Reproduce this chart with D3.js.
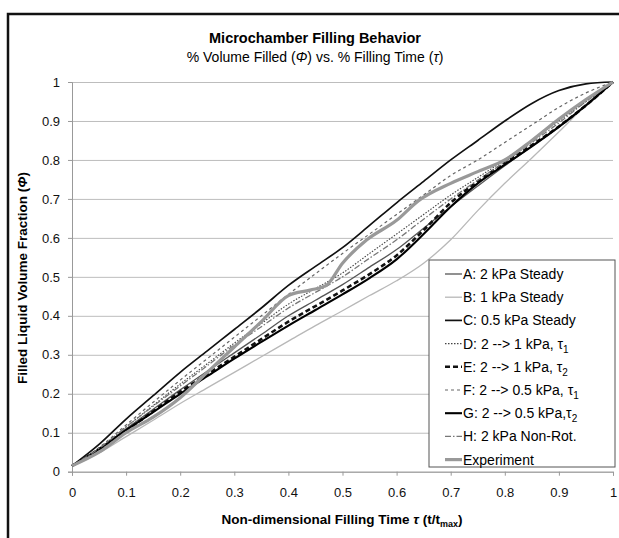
<!DOCTYPE html>
<html>
<head>
<meta charset="utf-8">
<script src="https://cdn.jsdelivr.net/npm/d3@7"></script>
<style>
  body { margin: 0; background: #fff; }
  text { font-family: "Liberation Sans", Arial, sans-serif; }
</style>
</head>
<body>
<div id="vis"></div>
<script>
// non-dimensional time grid shared by the simulated runs
const T = [0, 0.05, 0.1, 0.15, 0.2, 0.25, 0.3, 0.35, 0.4, 0.45, 0.5,
           0.55, 0.6, 0.65, 0.7, 0.75, 0.8, 0.85, 0.9, 0.95, 1];

const A_2KPA = [0.015, 0.058, 0.11, 0.16, 0.21, 0.258, 0.305, 0.352, 0.40, 0.44, 0.48,
                0.525, 0.57, 0.625, 0.68, 0.733, 0.785, 0.835, 0.885, 0.94, 1.0];
const B_1KPA = [0.015, 0.048, 0.09, 0.132, 0.175, 0.215, 0.255, 0.295, 0.335, 0.375, 0.413,
                0.452, 0.49, 0.535, 0.595, 0.67, 0.74, 0.805, 0.872, 0.94, 1.0];
const C_05KPA = [0.015, 0.07, 0.135, 0.195, 0.255, 0.31, 0.365, 0.42, 0.478, 0.527, 0.575,
                 0.632, 0.69, 0.745, 0.80, 0.85, 0.90, 0.945, 0.978, 0.995, 1.0];
const D_2TO1_T1 = [0.015, 0.06, 0.115, 0.17, 0.225, 0.277, 0.33, 0.38, 0.43, 0.47, 0.51,
                   0.56, 0.61, 0.66, 0.71, 0.755, 0.80, 0.85, 0.90, 0.95, 1.0];
const E_2TO1_T2 = [0.015, 0.057, 0.105, 0.155, 0.205, 0.25, 0.295, 0.34, 0.385, 0.425, 0.465,
                   0.507, 0.555, 0.62, 0.69, 0.745, 0.792, 0.838, 0.886, 0.94, 1.0];
const F_2TO05_T1 = [0.015, 0.062, 0.12, 0.178, 0.235, 0.29, 0.345, 0.4, 0.455, 0.508, 0.56,
                    0.61, 0.66, 0.71, 0.76, 0.80, 0.845, 0.89, 0.935, 0.972, 1.0];
const G_2TO05_T2 = [0.015, 0.058, 0.107, 0.153, 0.2, 0.245, 0.29, 0.333, 0.375, 0.415, 0.455,
                    0.497, 0.545, 0.61, 0.68, 0.74, 0.788, 0.835, 0.885, 0.94, 1.0];
const H_NONROT = [0.015, 0.06, 0.115, 0.168, 0.22, 0.272, 0.325, 0.372, 0.42, 0.46, 0.50,
                  0.548, 0.595, 0.648, 0.70, 0.748, 0.795, 0.845, 0.895, 0.95, 1.0];

// experiment has its own sampling
const T_EXP = [0, 0.05, 0.1, 0.15, 0.2, 0.25, 0.3, 0.35, 0.4, 0.44, 0.47, 0.5, 0.545,
               0.6, 0.64, 0.7, 0.75, 0.8, 0.85, 0.9, 0.95, 1];
const EXPERIMENT = [0.015, 0.05, 0.1, 0.14, 0.19, 0.255, 0.32, 0.385, 0.452, 0.466, 0.478, 0.535, 0.595,
                    0.645, 0.695, 0.74, 0.77, 0.80, 0.85, 0.905, 0.955, 1];

const X_TICKS = [0, 0.1, 0.2, 0.3, 0.4, 0.5, 0.6, 0.7, 0.8, 0.9, 1];
const Y_TICKS = [0, 0.1, 0.2, 0.3, 0.4, 0.5, 0.6, 0.7, 0.8, 0.9, 1];

const WIDTH = 619;
const HEIGHT = 538;
const LEFT = 72, RIGHT = 613, TOP = 82, BOTTOM = 471.7;

// label, x values, y values, stroke, width, dasharray
const SERIES = [
  ["A: 2 kPa Steady", T, A_2KPA, "#555", 1.3, null],
  ["B: 1 kPa Steady", T, B_1KPA, "#b8b8b8", 1.3, null],
  ["C: 0.5 kPa Steady", T, C_05KPA, "#111", 1.7, null],
  ["D: 2 --> 1 kPa, τ|1", T, D_2TO1_T1, "#444", 1.1, "1.5,1.5"],
  ["E: 2 --> 1 kPa, τ|2", T, E_2TO1_T2, "#111", 2.6, "5,3"],
  ["F: 2 --> 0.5 kPa, τ|1", T, F_2TO05_T1, "#666", 1.2, "3,3"],
  ["G: 2 --> 0.5 kPa,τ|2", T, G_2TO05_T2, "#000", 2.1, null],
  ["H: 2 kPa Non-Rot.", T, H_NONROT, "#777", 1.3, "6,2,1.5,2"],
  ["Experiment", T_EXP, EXPERIMENT, "#999", 3.2, null]
];

const x = d3.scaleLinear([0, 1], [LEFT, RIGHT]);
const y = d3.scaleLinear([0, 1], [BOTTOM, TOP]);

const svg = d3.select("#vis")
              .append("svg")
                .attr("width", WIDTH)
                .attr("height", HEIGHT);

svg.append("rect")
     .attr("width", WIDTH).attr("height", HEIGHT)
     .attr("fill", "#fff");

// outer chart frame (runs off the right and bottom)
svg.append("rect")
     .attr("x", 8).attr("y", 14)
     .attr("width", WIDTH).attr("height", HEIGHT)
     .attr("fill", "none")
     .attr("stroke", "#111")
     .attr("stroke-width", 2.5);

svg.append("text")
     .attr("x", 315).attr("y", 43)
     .attr("text-anchor", "middle")
     .style("font-size", "14.5px")
     .style("font-weight", "bold")
     .text("Microchamber Filling Behavior");

const sub = svg.append("text")
     .attr("x", 315).attr("y", 62)
     .attr("text-anchor", "middle")
     .style("font-size", "14px");
sub.append("tspan").text("% Volume Filled (");
sub.append("tspan").style("font-style", "italic").text("Φ");
sub.append("tspan").text(") vs. % Filling Time (");
sub.append("tspan").style("font-style", "italic").text("τ");
sub.append("tspan").text(")");

// gridlines
svg.append("g")
   .attr("transform", `translate(${LEFT},0)`)
   .call(d3.axisLeft(y).tickValues(Y_TICKS).tickSize(-(RIGHT - LEFT)).tickFormat(""))
   .call(g => g.select(".domain").remove())
   .call(g => g.selectAll("line").attr("stroke", "#bdbdbd"));

const yAxis = svg.append("g")
   .attr("transform", `translate(${LEFT},0)`)
   .call(d3.axisLeft(y).tickValues(Y_TICKS).tickSize(4).tickPadding(8).tickFormat(d3.format("")));
const xAxis = svg.append("g")
   .attr("transform", `translate(0,${BOTTOM})`)
   .call(d3.axisBottom(x).tickValues(X_TICKS).tickSize(4).tickPadding(12).tickFormat(d3.format("")));

[yAxis, xAxis].forEach(a => {
  a.select(".domain").attr("stroke", "#999");
  a.selectAll("line").attr("stroke", "#999");
  a.selectAll("text")
     .style("font-size", "13px")
     .style("font-family", "Liberation Sans, Arial, sans-serif")
     .attr("fill", "#111");
});

const line = d3.line()
               .x(d => x(d[0]))
               .y(d => y(d[1]))
               .curve(d3.curveMonotoneX);

svg.append("g")
   .selectAll("path")
   .data(SERIES)
   .enter()
   .append("path")
     .attr("d", s => line(d3.zip(s[1], s[2])))
     .attr("fill", "none")
     .attr("stroke", s => s[3])
     .attr("stroke-width", s => s[4])
     .attr("stroke-dasharray", s => s[5]);

// axis titles
const xt = svg.append("text")
     .attr("x", 342).attr("y", 524)
     .attr("text-anchor", "middle")
     .style("font-size", "13.5px")
     .style("font-weight", "bold");
xt.append("tspan").text("Non-dimensional Filling Time ");
xt.append("tspan").style("font-style", "italic").text("τ");
xt.append("tspan").text(" (t/t");
xt.append("tspan").attr("dy", 3).style("font-size", "9px").text("max");
xt.append("tspan").attr("dy", -3).text(")");

const yt = svg.append("text")
     .attr("transform", "translate(27,278) rotate(-90)")
     .attr("text-anchor", "middle")
     .style("font-size", "13.5px")
     .style("font-weight", "bold");
yt.append("tspan").text("Filled Liquid Volume Fraction (");
yt.append("tspan").style("font-style", "italic").text("Φ");
yt.append("tspan").text(")");

// legend
const LEG_X = 429, LEG_Y = 260, LEG_W = 186, LEG_H = 207, LEG_STEP = 23.2;

svg.append("rect")
     .attr("x", LEG_X).attr("y", LEG_Y)
     .attr("width", LEG_W).attr("height", LEG_H)
     .attr("fill", "#fff")
     .attr("stroke", "#555")
     .attr("stroke-width", 1);

const item = svg.append("g")
   .selectAll("g")
   .data(SERIES)
   .enter()
   .append("g")
     .attr("transform", (s, i) => `translate(${LEG_X + 16},${LEG_Y + 14 + i * LEG_STEP})`);

item.append("line")
      .attr("x1", 0).attr("x2", 17)
      .attr("stroke", s => s[3])
      .attr("stroke-width", s => s[4])
      .attr("stroke-dasharray", s => s[5]);

item.append("text")
      .attr("x", 18).attr("y", 5)
      .style("font-size", "14px")
      .each(function (s) {
        const parts = s[0].split("|");
        const t = d3.select(this);
        t.append("tspan").text(parts[0]);
        if (parts[1]) {
          t.append("tspan").attr("dy", 4).style("font-size", "10px").text(parts[1]);
        }
      });
</script>
</body>
</html>
